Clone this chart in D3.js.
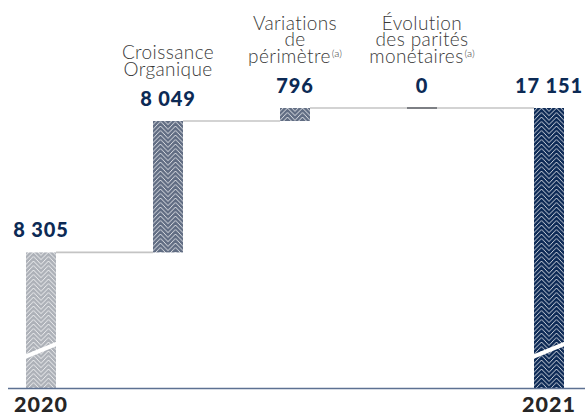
<!DOCTYPE html>
<html>
<head>
<meta charset="utf-8">
<script src="https://cdn.jsdelivr.net/npm/d3@7/dist/d3.min.js"></script>
<style>
  html, body { margin: 0; padding: 0; background: #fff; }
  svg { display: block; }
</style>
</head>
<body>
<svg id="chart" width="585" height="416"></svg>
<script>
// Bridge of revenue 2020 -> 2021 (waterfall)
const categories = ["2020", "Croissance Organique", "Variations de périmètre", "Évolution des parités monétaires", "2021"];
const kinds      = ["total", "delta", "delta", "delta", "total"];
const values     = [8305, 8049, 796, 0, 17151];
const valueLabels = ["8 305", "8 049", "796", "0", "17 151"];
// Category headers drawn above the value, one entry per line; the second item is the footnote call
const headerLines = [
  [],
  [["Croissance"], ["Organique"]],
  [["Variations"], ["de"], ["périmètre", "(a)"]],
  [["Évolution"], ["des parités"], ["monétaires", "(a)"]],
  []
];
const bottomLabels = ["2020", "", "", "", "2021"];
const fills = ["#adb1b8", "#616d83", "#616d83", "#7d7f84", "#0d2a56"];

const svg = d3.select("#chart");
const W = 585, H = 416;

const x = d3.scalePoint().domain(categories).range([41, 549]);
const y = d3.scaleLinear().domain([0, 17151]).range([388, 108]);
const barW = 30;

// waterfall extents
let running = 0;
const bars = categories.map((c, i) => {
  let y0, y1;
  if (kinds[i] === "total") { y0 = 0; y1 = values[i]; running = values[i]; }
  else { y0 = running; y1 = running + values[i]; running = y1; }
  return { cat: c, i, y0, y1, v: values[i] };
});

// herringbone patterns, one per bar so the chevrons start at the bar edge
const defs = svg.append("defs");
bars.forEach(b => {
  const p = defs.append("pattern")
    .attr("id", "pat" + b.i)
    .attr("patternUnits", "userSpaceOnUse")
    .attr("x", x(b.cat) - barW / 2)
    .attr("y", 0)
    .attr("width", 15)
    .attr("height", 4.5);
  p.append("rect").attr("width", 15).attr("height", 4.5).attr("fill", fills[b.i]);
  let d = "";
  for (let k = -3; k <= 2; k++) {
    const o = k * 4.5;
    d += `M-0.5,${o + 8.2}L7.5,${o}L15.5,${o + 8.2}`;
  }
  p.append("path").attr("d", d).attr("fill", "none")
    .attr("stroke", "#ffffff").attr("stroke-width", 0.9).attr("stroke-opacity", 0.85);
});

// connectors between consecutive bar ends
const connColor = "#c4c4c4";
for (let i = 0; i < bars.length - 1; i++) {
  const b = bars[i], n = bars[i + 1];
  svg.append("line")
    .attr("x1", x(b.cat) + barW / 2)
    .attr("x2", x(n.cat) - barW / 2)
    .attr("y1", y(b.y1)).attr("y2", y(b.y1))
    .attr("stroke", connColor).attr("stroke-width", 1.6);
}

// bars
bars.forEach(b => {
  const top = y(Math.max(b.y0, b.y1));
  const bot = y(Math.min(b.y0, b.y1));
  if (b.v === 0) {
    svg.append("line")
      .attr("x1", x(b.cat) - barW / 2).attr("x2", x(b.cat) + barW / 2)
      .attr("y1", top).attr("y2", top)
      .attr("stroke", fills[b.i]).attr("stroke-width", 2);
  } else {
    svg.append("rect")
      .attr("x", x(b.cat) - barW / 2).attr("y", top)
      .attr("width", barW).attr("height", bot - top)
      .attr("fill", "url(#pat" + b.i + ")");
  }
});

// axis break marks on the two total bars
const breakValue = 2450;
bars.filter(b => kinds[b.i] === "total").forEach(b => {
  const cx = x(b.cat), cy = y(breakValue);
  const x0 = cx - barW / 2 - 2, x1 = cx + barW / 2 + 2;
  const rise = 14, gap = 4.5;
  svg.append("path")
    .attr("d", `M${x0},${cy + rise / 2}L${x1},${cy - rise / 2}L${x1},${cy - rise / 2 + gap}L${x0},${cy + rise / 2 + gap}Z`)
    .attr("fill", "#ffffff");
});

// baseline
svg.append("line")
  .attr("x1", 8).attr("x2", W)
  .attr("y1", y(0) + 0.5).attr("y2", y(0) + 0.5)
  .attr("stroke", "#5d7192").attr("stroke-width", 1.6);

// value labels
bars.forEach(b => {
  svg.append("text")
    .attr("x", x(b.cat))
    .attr("y", y(Math.max(b.y0, b.y1)) - 15)
    .attr("text-anchor", "middle")
    .attr("font-family", "Lato, 'Noto Sans', sans-serif")
    .attr("font-weight", 900)
    .attr("font-size", 20)
    .attr("letter-spacing", 0.9)
    .attr("fill", "#0c2a55")
    .text(valueLabels[b.i]);
});

// category headers
const lineH = 16.6;
bars.forEach(b => {
  const lines = headerLines[b.i];
  if (!lines.length) return;
  const labelBase = y(Math.max(b.y0, b.y1)) - 15;
  const lastBase = labelBase - 30;
  lines.forEach((ln, k) => {
    const t = svg.append("text")
      .attr("x", x(b.cat))
      .attr("y", lastBase - (lines.length - 1 - k) * lineH)
      .attr("text-anchor", "middle")
      .attr("font-family", "Lato, 'Noto Sans', sans-serif")
      .attr("font-weight", 300)
      .attr("font-size", 19)
      .attr("letter-spacing", 0.4)
      .attr("fill", "#3a3a3a");
    t.append("tspan").text(ln[0]);
    if (ln[1]) {
      t.append("tspan").attr("font-size", 10.5).attr("letter-spacing", 0).attr("dx", 1).attr("dy", -6).text(ln[1]);
    }
  });
});

// year labels under the baseline
bars.forEach(b => {
  if (!bottomLabels[b.i]) return;
  svg.append("text")
    .attr("x", x(b.cat))
    .attr("y", 412)
    .attr("text-anchor", "middle")
    .attr("font-family", "Lato, 'Noto Sans', sans-serif")
    .attr("font-weight", 900)
    .attr("font-size", 21.5)
    .attr("letter-spacing", 1)
    .attr("fill", "#262626")
    .text(bottomLabels[b.i]);
});
</script>
</body>
</html>
